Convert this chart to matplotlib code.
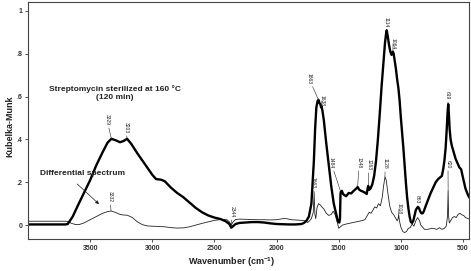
import numpy as np
import matplotlib
matplotlib.use("Agg")
import matplotlib.pyplot as plt

plt.rcParams['font.family'] = ['Liberation Sans', 'DejaVu Sans']

# sterilized sample (thick line)
thick_wn = [4000, 3700, 3680, 3640, 3600, 3550, 3500, 3450, 3400, 3360, 3329, 3290, 3260, 3230,
            3203, 3170, 3120, 3060, 3000, 2970, 2930, 2900, 2850, 2800, 2750, 2700, 2650, 2600,
            2550, 2500, 2450, 2410, 2380, 2365, 2350, 2330, 2300, 2250, 2200, 2150, 2100, 2050,
            2000, 1950, 1900, 1850, 1800, 1780, 1760, 1740, 1720, 1700, 1690, 1680, 1670, 1663,
            1655, 1648, 1642, 1638, 1630, 1620, 1600, 1580, 1560, 1540, 1520, 1505, 1495, 1490,
            1486, 1484, 1475, 1465, 1455, 1440, 1420, 1400, 1380, 1360, 1348, 1335, 1320, 1300,
            1285, 1275, 1268, 1263, 1255, 1245, 1230, 1215, 1200, 1185, 1170, 1155, 1140, 1128,
            1120, 1114, 1105, 1095, 1085, 1075, 1068, 1064, 1058, 1050, 1040, 1030, 1020, 1010,
            1000, 990, 980, 970, 960, 950, 940, 930, 920, 910, 900, 890, 880, 870, 863, 855, 845,
            835, 825, 815, 800, 780, 760, 740, 720, 700, 690, 680, 670, 660, 650, 640, 630, 625,
            619, 614, 608, 600, 590, 580, 570, 560, 545, 530, 515, 500, 480, 460, 450]
thick_km = [0.003, 0.003, 0.005, 0.04, 0.09, 0.15, 0.21, 0.28, 0.34, 0.385, 0.403, 0.395, 0.387, 0.393,
            0.403, 0.38, 0.335, 0.285, 0.235, 0.215, 0.212, 0.205, 0.175, 0.15, 0.13, 0.105, 0.08, 0.06,
            0.045, 0.035, 0.028, 0.018, 0.005, -0.012, -0.005, 0.005, 0.01, 0.012, 0.014, 0.014, 0.012, 0.008,
            0.005, 0.004, 0.003, 0.003, 0.005, 0.01, 0.02, 0.04, 0.1, 0.3, 0.45, 0.55, 0.58, 0.585,
            0.57, 0.565, 0.55, 0.555, 0.53, 0.49, 0.38, 0.28, 0.18, 0.1, 0.05, 0.015, 0.012, 0.03,
            0.14, 0.155, 0.16, 0.145, 0.14, 0.135, 0.15, 0.148, 0.16, 0.17, 0.178, 0.165, 0.16, 0.155,
            0.15, 0.145, 0.17, 0.183, 0.165, 0.17, 0.19, 0.23, 0.3, 0.4, 0.52, 0.65, 0.76, 0.85,
            0.89, 0.91, 0.88, 0.84, 0.81, 0.795, 0.805, 0.81, 0.8, 0.77, 0.73, 0.68, 0.64, 0.58,
            0.5, 0.43, 0.36, 0.28, 0.2, 0.13, 0.08, 0.04, 0.015, 0.01, 0.02, 0.045, 0.07, 0.08, 0.085, 0.08, 0.065,
            0.055, 0.055, 0.065, 0.09, 0.12, 0.15, 0.175, 0.2, 0.215, 0.22, 0.225, 0.23, 0.26, 0.3, 0.36, 0.46, 0.52,
            0.565, 0.52, 0.45, 0.4, 0.37, 0.35, 0.33, 0.31, 0.29, 0.27, 0.26, 0.22, 0.17, 0.14, 0.13]

# differential spectrum (thin line)
thin_wn = [4000, 3700, 3680, 3650, 3620, 3590, 3550, 3500, 3450, 3400, 3360, 3332, 3300, 3260, 3230,
           3200, 3160, 3120, 3080, 3040, 3000, 2950, 2900, 2850, 2800, 2750, 2700, 2650, 2600, 2550,
           2500, 2450, 2400, 2380, 2365, 2350, 2330, 2300, 2250, 2200, 2150, 2100, 2050, 2000, 1950,
           1920, 1880, 1850, 1800, 1770, 1750, 1735, 1720, 1705, 1698, 1692, 1685, 1675, 1663, 1650,
           1635, 1620, 1600, 1580, 1560, 1545, 1530, 1515, 1500, 1490, 1470, 1440, 1400, 1360, 1320,
           1290, 1270, 1255, 1240, 1225, 1210, 1195, 1180, 1165, 1150, 1140, 1128, 1118, 1105, 1090,
           1075, 1060, 1045, 1030, 1022, 1018, 1012, 1000, 985, 970, 955, 940, 925, 910, 895, 880,
           865, 850, 840, 825, 810, 790, 770, 750, 730, 710, 690, 670, 650, 635, 625, 620, 616, 610,
           600, 585, 570, 555, 540, 525, 510, 495, 480, 460, 450]
thin_km = [0.018, 0.018, 0.017, 0.008, 0.003, 0.002, 0.01, 0.025, 0.04, 0.055, 0.063, 0.066, 0.06, 0.05, 0.047,
           0.046, 0.035, 0.015, 0.002, -0.004, -0.005, -0.006, -0.008, -0.012, -0.014, -0.013, -0.008, 0.0, 0.008, 0.015,
           0.022, 0.026, 0.025, 0.015, 0.0, 0.015, 0.026, 0.028, 0.027, 0.026, 0.025, 0.025, 0.024, 0.025, 0.03,
           0.03, 0.025, 0.024, 0.022, 0.02, 0.012, 0.02, 0.03, 0.06, 0.15, 0.05, 0.03, 0.08, 0.1, 0.095,
           0.085, 0.075, 0.055, 0.045, 0.05, 0.065, 0.05, 0.02, -0.015, -0.01, 0.0, 0.005, 0.01, 0.015, 0.02,
           0.025, 0.045, 0.06, 0.055, 0.07, 0.085, 0.08, 0.1, 0.09, 0.13, 0.18, 0.225, 0.21, 0.15, 0.09,
           0.06, 0.05, 0.035, 0.02, 0.03, 0.05, 0.02, -0.01, -0.03, -0.035, -0.03, -0.015, -0.012, 0.005, -0.005, 0.02,
           0.035, 0.02, 0.0, -0.01, -0.02, -0.02, -0.018, -0.015, -0.017, -0.02, -0.012, -0.02, -0.015, -0.005, 0.04, 0.16, 0.04, 0.01,
           0.02, 0.035, 0.04, 0.035, 0.05, 0.055, 0.048, 0.045, 0.035, 0.03, 0.028]

# peak labels: (label, on thick curve?, text x, text y)
peak_labels = ['3329', '3203', '2344', '1663', '1638', '1484', '1348', '1263', '1114', '1064', '863', '619',
               '3332', '1663', '1128', '1018', '620']
peak_wn = [3329, 3203, 2365, 1663, 1638, 1484, 1348, 1263, 1114, 1064, 863, 619,
           3332, 1698, 1128, 1018, 620]
peak_thick = [True] * 12 + [False] * 5
label_x = [3365, 3212, 2360, 1740, 1635, 1562, 1336, 1256, 1119, 1063, 870, 629,
           3340, 1706, 1127, 1015, 621]
label_y = [0.467, 0.43, 0.037, 0.66, 0.556, 0.266, 0.266, 0.257, 0.925, 0.822, 0.103, 0.589,
           0.107, 0.173, 0.262, 0.051, 0.266]

xticks = [3500, 3000, 2500, 2000, 1500, 1000, 500]
yticks = [0, 0.2, 0.4, 0.6, 0.8, 1.0]
ytick_labels = ['0', '.2', '.4', '.6', '.8', '1']

W, H = 471, 271
fig = plt.figure(figsize=(W / 100, H / 100), dpi=100)
ax = fig.add_axes([28 / W, (H - 239) / H, (469 - 28) / W, (239 - 2) / H])

ax.plot(thin_wn, thin_km, color='#222222', lw=0.6)
ax.plot(thick_wn, thick_km, color='black', lw=1.7)

ax.set_xlim(4000, 452)
ax.set_ylim(-0.065, 1.042)
ax.set_xticks(xticks)
ax.set_xticklabels([str(t) for t in xticks])
ax.set_yticks(yticks)
ax.set_yticklabels(ytick_labels)
ax.tick_params(labelsize=5, length=2, width=0.6, pad=2, colors='#333333')
for lab in ax.get_xticklabels() + ax.get_yticklabels():
    lab.set_fontweight('bold')
for sp in ax.spines.values():
    sp.set_linewidth(0.8)
    sp.set_color('#444444')

for lab, wn, on_thick, tx, ty in zip(peak_labels, peak_wn, peak_thick, label_x, label_y):
    if on_thick:
        py = np.interp(wn, thick_wn[::-1], thick_km[::-1])
    else:
        py = np.interp(wn, thin_wn[::-1], thin_km[::-1])
    ax.annotate(lab, xy=(wn, py), xytext=(tx, ty), rotation=-90, ha='center', va='bottom',
                fontsize=3.6, color='#222222',
                arrowprops=dict(arrowstyle='-', lw=0.4, color='#222222', shrinkA=0, shrinkB=0))

ax.text(3300, 0.617, 'Streptomycin sterilized at 160 \u00b0C\n(120 min)', ha='center', va='center',
        fontsize=6, fontweight='bold', color='#222222', linespacing=1.15)
ax.text(3564, 0.243, 'Differential spectrum', ha='center', va='center',
        fontsize=6, fontweight='bold', color='#222222')
ax.annotate('', xy=(3412, 0.089), xytext=(3621, 0.201),
            arrowprops=dict(arrowstyle='-|>', lw=0.5, color='#222222', mutation_scale=5))

fig.text(10 / W, 1 - 126 / H, 'Kubelka-Munk', rotation=90, ha='center', va='center',
         fontsize=6.5, fontweight='bold', color='#222222')
fig.text(232 / W, 1 - 262 / H, 'Wavenumber (cm$^{\\mathregular{-1}}$)', ha='center', va='center',
         fontsize=6.5, fontweight='bold', color='#222222')

fig.savefig('out.png', dpi=100)
